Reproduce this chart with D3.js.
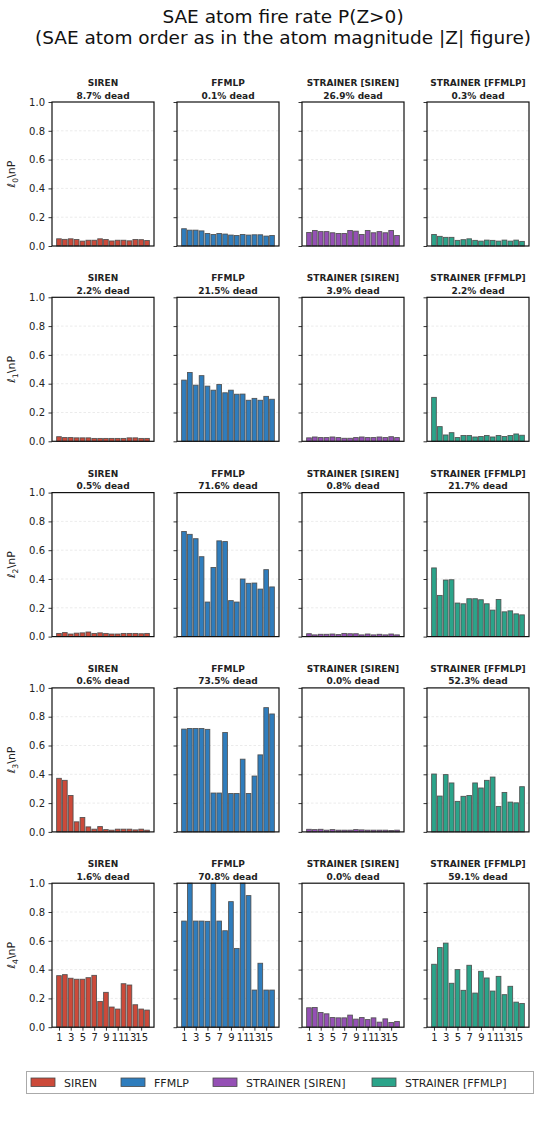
<!DOCTYPE html>
<html><head><meta charset="utf-8">
<script src="https://cdn.jsdelivr.net/npm/d3@7"></script>
<style>body{margin:0;background:#fff}svg{display:block}</style>
</head><body>
<script>
const models = ["SIREN", "FFMLP", "STRAINER [SIREN]", "STRAINER [FFMLP]"];
const colors = ["#cc4a3a", "#2f7dbd", "#9550b5", "#2ba48a"];
const layers = ["0", "1", "2", "3", "4"];
const atoms = d3.range(1, 17);
const xTickLabels = [1, 3, 5, 7, 9, 11, 13, 15];
const yTicks = [0, 0.2, 0.4, 0.6, 0.8, 1.0];

const deadSiren = [8.7, 2.2, 0.5, 0.6, 1.6];
const deadFfmlp = [0.1, 21.5, 71.6, 73.5, 70.8];
const deadStrSiren = [26.9, 3.9, 0.8, 0.0, 0.0];
const deadStrFfmlp = [0.3, 2.2, 21.7, 52.3, 59.1];

const sirenRates = [
  [0.05,0.046,0.05,0.045,0.034,0.04,0.04,0.05,0.045,0.035,0.04,0.04,0.036,0.045,0.044,0.038],
  [0.032,0.026,0.026,0.024,0.024,0.024,0.02,0.02,0.02,0.02,0.02,0.02,0.024,0.024,0.02,0.02],
  [0.022,0.028,0.018,0.024,0.026,0.032,0.022,0.026,0.022,0.018,0.018,0.022,0.022,0.022,0.02,0.022],
  [0.372,0.358,0.253,0.07,0.1,0.035,0.019,0.037,0.016,0.012,0.019,0.019,0.019,0.014,0.019,0.012],
  [0.358,0.365,0.34,0.333,0.333,0.344,0.36,0.179,0.242,0.14,0.126,0.302,0.293,0.156,0.126,0.119]
];
const ffmlpRates = [
  [0.12,0.11,0.11,0.105,0.087,0.08,0.087,0.083,0.076,0.073,0.08,0.076,0.078,0.078,0.069,0.073],
  [0.425,0.478,0.39,0.456,0.383,0.355,0.395,0.337,0.355,0.327,0.328,0.285,0.298,0.285,0.312,0.292],
  [0.73,0.71,0.68,0.555,0.24,0.48,0.665,0.66,0.25,0.24,0.40,0.37,0.372,0.33,0.465,0.345],
  [0.714,0.718,0.718,0.718,0.712,0.27,0.27,0.69,0.267,0.267,0.505,0.267,0.388,0.535,0.863,0.819],
  [0.737,1.0,0.737,0.737,0.735,1.0,0.737,0.67,0.872,0.547,1.0,0.914,0.258,0.444,0.258,0.258]
];
const strSirenRates = [
  [0.094,0.108,0.1,0.1,0.092,0.087,0.087,0.108,0.103,0.08,0.108,0.092,0.1,0.092,0.108,0.073],
  [0.024,0.03,0.026,0.026,0.03,0.026,0.021,0.021,0.026,0.03,0.026,0.026,0.03,0.026,0.032,0.026],
  [0.02,0.012,0.016,0.016,0.018,0.014,0.022,0.02,0.02,0.012,0.018,0.012,0.016,0.012,0.018,0.012],
  [0.018,0.016,0.018,0.012,0.016,0.012,0.012,0.012,0.016,0.014,0.012,0.012,0.012,0.012,0.01,0.012],
  [0.135,0.137,0.102,0.093,0.067,0.065,0.065,0.084,0.056,0.067,0.053,0.065,0.035,0.058,0.033,0.04]
];
const strFfmlpRates = [
  [0.08,0.067,0.06,0.06,0.039,0.044,0.05,0.039,0.034,0.041,0.039,0.034,0.041,0.034,0.041,0.032],
  [0.305,0.102,0.044,0.06,0.026,0.04,0.04,0.03,0.033,0.04,0.03,0.04,0.033,0.04,0.051,0.042],
  [0.477,0.286,0.393,0.395,0.233,0.228,0.263,0.263,0.256,0.228,0.184,0.258,0.172,0.179,0.158,0.151],
  [0.402,0.249,0.398,0.34,0.212,0.247,0.253,0.34,0.305,0.358,0.381,0.177,0.274,0.207,0.202,0.314],
  [0.437,0.553,0.584,0.305,0.4,0.256,0.43,0.237,0.388,0.342,0.251,0.353,0.226,0.284,0.174,0.165]
];

const rates = [sirenRates, ffmlpRates, strSirenRates, strFfmlpRates];
const dead = [deadSiren, deadFfmlp, deadStrSiren, deadStrFfmlp];

const W = 541, H = 1122;
const FONT = "DejaVu Sans, sans-serif";
const svg = d3.select("body").append("svg").attr("width", W).attr("height", H)
  .style("font-family", FONT);

svg.append("text").attr("x", 283).attr("y", 22.5).attr("text-anchor", "middle")
  .attr("font-size", 18.5).attr("fill", "#111").text("SAE atom fire rate P(Z>0)");
svg.append("text").attr("x", 283).attr("y", 43.5).attr("text-anchor", "middle")
  .attr("font-size", 18.5).attr("fill", "#111").text("(SAE atom order as in the atom magnitude |Z| figure)");

const colLeft = [52, 177, 302, 427];
const pw = 102, ph = 144;
const rowTop = [102, 297.3, 492.6, 687.9, 883.2];

const x = d3.scaleLinear().domain([0.6 - 0.79, 16.4 + 0.79]).range([0, pw]);
const y = d3.scaleLinear().domain([0, 1]).range([ph, 0]);
const bw = x(0.8) - x(0);

layers.forEach((L, r) => {
  models.forEach((m, c) => {
    const g = svg.append("g").attr("transform", `translate(${colLeft[c]},${rowTop[r]})`);
    g.selectAll("line.grid").data([0.2, 0.4, 0.6, 0.8]).enter().append("line")
      .attr("x1", 0).attr("x2", pw).attr("y1", d => y(d)).attr("y2", d => y(d))
      .attr("stroke", "#ddd").attr("stroke-width", 0.6).attr("stroke-dasharray", "2.5,2");
    g.selectAll("rect.bar").data(rates[c][r]).enter().append("rect")
      .attr("x", (d, i) => x(atoms[i]) - bw / 2).attr("width", bw)
      .attr("y", d => y(d)).attr("height", d => y(0) - y(d))
      .attr("fill", colors[c]).attr("stroke", "#4a4a4a").attr("stroke-width", 0.9)
      .attr("stroke-opacity", 0.9);
    const ya = d3.axisLeft(y).tickValues(yTicks).tickSize(3.5).tickPadding(3.5)
      .tickFormat(c === 0 ? d3.format(".1f") : () => "");
    const yg = g.append("g").call(ya);
    yg.select(".domain").remove();
    yg.selectAll("line").attr("stroke", "#000").attr("stroke-width", 0.8);
    yg.selectAll("text").attr("font-size", 10).attr("fill", "#222").attr("font-family", FONT);
    if (r === layers.length - 1) {
      const xa = d3.axisBottom(x).tickValues(xTickLabels).tickSize(3.5).tickPadding(3).tickFormat(d3.format("d"));
      const xg = g.append("g").attr("transform", `translate(0,${ph})`).call(xa);
      xg.select(".domain").remove();
      xg.selectAll("line").attr("stroke", "#000").attr("stroke-width", 0.8);
      xg.selectAll("text").attr("font-size", 10).attr("fill", "#222").attr("font-family", FONT);
    }
    g.append("rect").attr("x", 0).attr("y", 0).attr("width", pw).attr("height", ph)
      .attr("fill", "none").attr("stroke", "#111").attr("stroke-width", 1.2);
    const t = g.append("text").attr("text-anchor", "middle").attr("font-size", 9)
      .attr("font-weight", "bold").attr("fill", "#222");
    t.append("tspan").attr("x", pw / 2).attr("y", -16).text(m.toUpperCase());
    t.append("tspan").attr("x", pw / 2).attr("y", -3.5).text(dead[c][r].toFixed(1) + "% dead");
    if (c === 0) {
      const yl = g.append("text").attr("transform", `translate(-37,${ph / 2}) rotate(-90)`)
        .attr("text-anchor", "middle").attr("font-size", 11).attr("fill", "#222");
      yl.append("tspan").attr("font-style", "italic").text("ℓ");
      yl.append("tspan").attr("font-size", 7.7).attr("dy", 2.8).text(L);
      yl.append("tspan").attr("dy", -2.8).text("\\nP");
    }
  });
});

const lg = svg.append("g");
lg.append("rect").attr("x", 26.5).attr("y", 1071.5).attr("width", 507).attr("height", 22)
  .attr("fill", "#fff").attr("stroke", "#aaa").attr("stroke-width", 1);
const legX = [31, 121, 213, 372];
models.forEach((m, i) => {
  lg.append("rect").attr("x", legX[i]).attr("y", 1078).attr("width", 24).attr("height", 8.5)
    .attr("fill", colors[i]).attr("stroke", "#4a4a4a").attr("stroke-width", 0.8);
  lg.append("text").attr("x", legX[i] + 33).attr("y", 1086.5).attr("font-size", 11)
    .attr("fill", "#222").text(m);
});
</script>
</body></html>
